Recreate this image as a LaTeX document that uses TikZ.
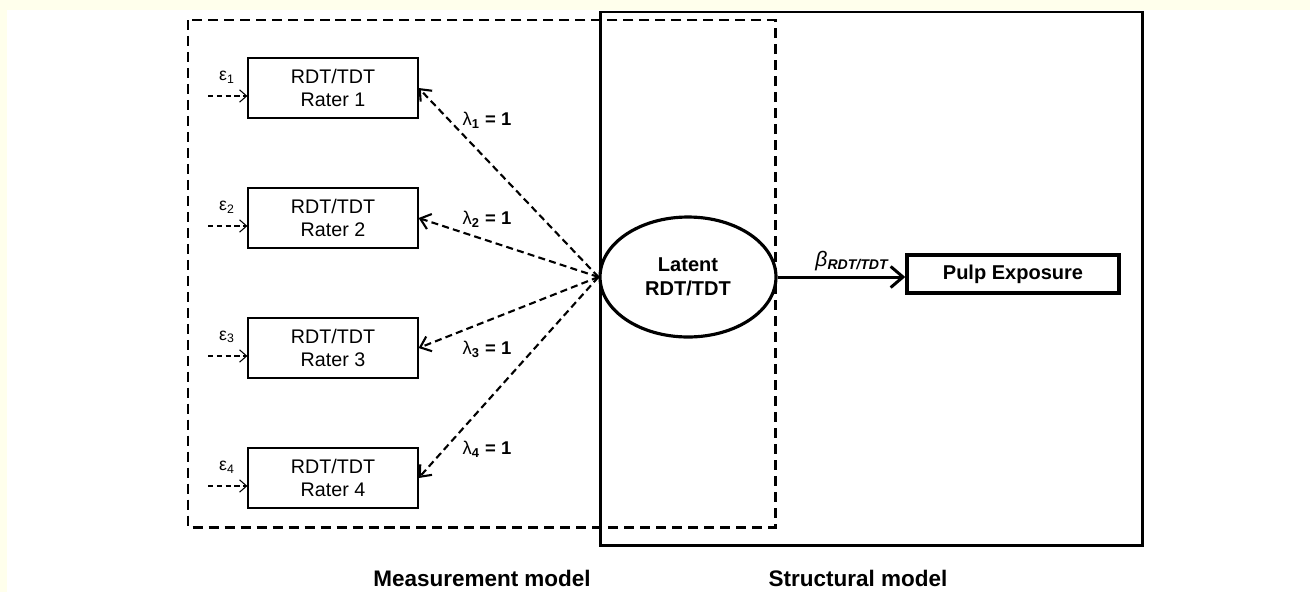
\documentclass[tikz,border=0pt]{standalone}
\usepackage{fontspec}
\setmainfont{Liberation Sans}
\usetikzlibrary{positioning,arrows.meta,shapes.geometric}
\definecolor{paleyellow}{RGB}{255,255,236}

\begin{document}
\begin{tikzpicture}[x=0.02cm,y=-0.02cm,
  rater/.style={rectangle,draw,line width=0.7pt,minimum width=3.4cm,
    minimum height=1.2cm,align=center,font=\fontsize{11.2}{13.2}\selectfont},
  loading/.style={-{Straight Barb[length=5.5pt,width=9pt]},line width=1.2pt,
    dash pattern=on 4pt off 2.4pt},
  errarrow/.style={-{Straight Barb[length=4pt,width=7pt]},line width=0.6pt,
    dash pattern=on 3pt off 2pt}]
\fill[paleyellow] (0,0) rectangle (1310,592);
\fill[white] (7,10) rectangle (1310,592);
\useasboundingbox (0,0) rectangle (1310,592);

\draw[line width=1.7pt,dash pattern=on 5.7pt off 3.4pt] (188,20) rectangle (775,527);
\draw[line width=1.7pt] (600,12) rectangle (1142,545);

\node[ellipse,draw,fill=white,line width=1.8pt,minimum width=3.52cm,
      minimum height=2.4cm,align=center,
      font=\bfseries\fontsize{11.4}{13.5}\selectfont] (latent) at (688,277)
      {Latent\\RDT/TDT};
\node[rectangle,draw,line width=2pt,minimum width=4.24cm,minimum height=0.76cm,
      font=\bfseries\fontsize{11.4}{13.5}\selectfont] (pulp) at (1013,274)
      {Pulp Exposure};
\draw[-{Straight Barb[length=7pt,width=12pt]},line width=1.7pt]
  (latent.east) -- (latent.east -| pulp.west);
\node[font=\fontsize{12}{14}\selectfont] (beta) at (852,261)
  {\textit{β}\textsubscript{\bfseries\itshape RDT/TDT}};

\foreach \i/\ly in {1/120,2/219,3/349,4/449} {
  \pgfmathsetmacro{\ry}{88+130*(\i-1)}
  \node[rater] (R\i) at (333,\ry) {RDT/TDT\\Rater \i};
  \coordinate (E\i) at (208,\ry+8);
  \draw[errarrow] (E\i) -- (E\i -| R\i.west);
  \node[font=\fontsize{10}{12}\selectfont] (eps\i) at (227,\ry-11)
    {ε\textsubscript{\i}};
  \draw[loading] (latent.west) -- (R\i.east);
  \node[font=\fontsize{10.5}{12}\selectfont] (lam\i) at (487,\ly)
    {λ\textsubscript{\bfseries\i}\textbf{ = 1}};
}

\node[font=\bfseries\fontsize{12.8}{15}\selectfont] (meas) at (482,578)
  {Measurement model};
\node[font=\bfseries\fontsize{12.8}{15}\selectfont] (struct) at (858,578)
  {Structural model};
\end{tikzpicture}
\end{document}
